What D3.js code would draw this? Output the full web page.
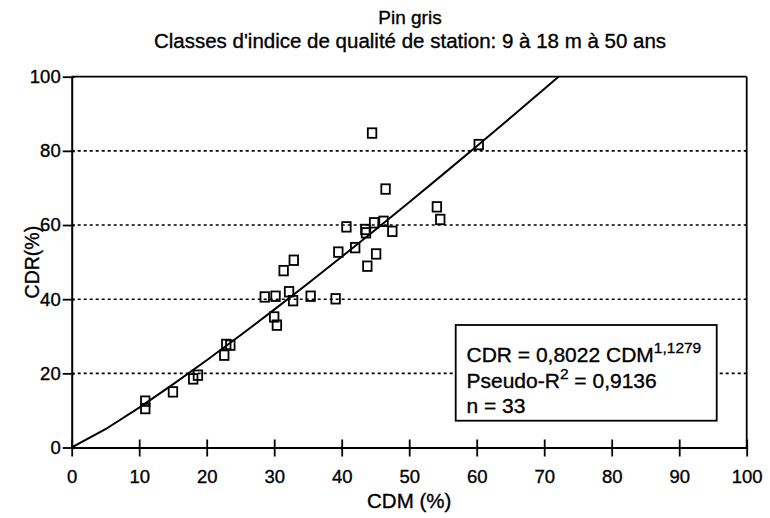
<!DOCTYPE html>
<html>
<head>
<meta charset="utf-8">
<script src="https://cdn.jsdelivr.net/npm/d3@7"></script>
<style>
  html, body { margin: 0; padding: 0; background: #fff; }
  svg text { font-family: "Liberation Sans", Arial, Helvetica, sans-serif; fill: #000; stroke: #000; stroke-width: 0.35px; }
</style>
</head>
<body>
<svg id="chart" width="770" height="518"></svg>
<script>
// ---- Data ----
const cdm = [10.9, 10.9, 15.0, 18.0, 18.7, 22.6, 22.9, 23.5, 28.6, 30.2, 30.0, 30.4,
             32.2, 32.8, 31.4, 32.9, 35.4, 39.1, 39.5, 42.0, 43.8, 44.5, 46.5, 40.7,
             43.5, 43.6, 44.8, 46.2, 47.5, 45.1, 54.1, 54.6, 60.3];
const cdr = [12.5, 10.5, 15.0, 18.5, 19.5, 24.9, 27.8, 27.6, 40.6, 40.8, 35.2, 33.0,
             42.0, 39.6, 47.7, 50.5, 40.8, 40.1, 52.7, 53.9, 48.9, 84.8, 69.7, 59.5,
             58.8, 57.9, 60.6, 61.0, 58.3, 52.2, 64.9, 61.5, 81.7];
// fitted curve CDR = 0,8022 CDM^1,1279
const curveX = [0, 5, 10, 15, 20, 25, 30, 35, 40, 45, 50, 55, 60, 65, 70, 75];
const curveY = [0, 4.93, 10.77, 17.02, 23.54, 30.27, 37.19, 44.24, 51.44, 58.74, 66.15, 73.66, 81.26, 88.93, 96.67, 104.5];
const xTicks = [0, 10, 20, 30, 40, 50, 60, 70, 80, 90, 100];
const yTicks = [0, 20, 40, 60, 80, 100];
const gridY = [20, 40, 60, 80];
const title1 = "Pin gris";
const title2 = "Classes d'indice de qualité de station: 9 à 18 m à 50 ans";
const xLabel = "CDM (%)";
const yLabel = "CDR(%)";

// ---- Layout ----
const svg = d3.select("#chart");
const L = 71.7, R = 746.7, T = 76.7, B = 447.5;
const x = d3.scaleLinear().domain([0, 100]).range([L, R]);
const y = d3.scaleLinear().domain([0, 100]).range([B, T]);

// titles
svg.append("text").attr("x", 410).attr("y", 23.5).attr("text-anchor", "middle")
  .attr("font-size", 19).text(title1);
svg.append("text").attr("x", 410).attr("y", 47.5).attr("text-anchor", "middle")
  .attr("font-size", 20.5).text(title2);

// gridlines
svg.append("g").selectAll("line").data(gridY).join("line")
  .attr("x1", L).attr("x2", R).attr("y1", d => y(d)).attr("y2", d => y(d))
  .attr("stroke", "#000").attr("stroke-width", 1.6).attr("stroke-dasharray", "3,3");

// frame top/right
svg.append("line").attr("x1", L).attr("x2", R).attr("y1", T).attr("y2", T)
  .attr("stroke", "#000").attr("stroke-width", 1.8);
svg.append("line").attr("x1", R).attr("x2", R).attr("y1", T).attr("y2", B)
  .attr("stroke", "#000").attr("stroke-width", 1.8);

// x axis
const gx = svg.append("g").attr("transform", `translate(0,${B})`)
  .call(d3.axisBottom(x).tickValues(xTicks).tickSize(9).tickPadding(13).tickSizeOuter(0));
gx.select(".domain").attr("stroke-width", 2);
gx.selectAll(".tick line").attr("y1", -8).attr("stroke-width", 1.8);
gx.selectAll(".tick text").attr("font-size", 18.5).attr("font-family", "Liberation Sans, Arial, sans-serif");

// y axis
const gy = svg.append("g").attr("transform", `translate(${L},0)`)
  .call(d3.axisLeft(y).tickValues(yTicks).tickSize(9).tickPadding(2).tickSizeOuter(0));
gy.select(".domain").attr("stroke-width", 2);
gy.selectAll(".tick line").attr("x1", 3).attr("stroke-width", 1.8);
gy.selectAll(".tick text").attr("font-size", 18.5).attr("font-family", "Liberation Sans, Arial, sans-serif");

// axis titles
svg.append("text").attr("x", x(50)).attr("y", 508).attr("text-anchor", "middle")
  .attr("font-size", 20.5).text(xLabel);
svg.append("text").attr("transform", `translate(39,${(T + B) / 2}) rotate(-90)`)
  .attr("text-anchor", "middle").attr("font-size", 19.5).text(yLabel);

// clip
svg.append("clipPath").attr("id", "clip").append("rect")
  .attr("x", L).attr("y", T).attr("width", R - L).attr("height", B - T);

// curve
const line = d3.line().x(d => x(d[0])).y(d => y(d[1]));
svg.append("path").datum(curveX.map((v, i) => [v, curveY[i]]))
  .attr("clip-path", "url(#clip)")
  .attr("d", line).attr("fill", "none").attr("stroke", "#000").attr("stroke-width", 2);

// points
const pw = 8.5, ph = 9.5;
svg.append("g").selectAll("rect").data(cdm.map((v, i) => [v, cdr[i]])).join("rect")
  .attr("x", d => x(d[0]) - pw / 2).attr("y", d => y(d[1]) - ph / 2)
  .attr("width", pw).attr("height", ph)
  .attr("fill", "none").attr("stroke", "#000").attr("stroke-width", 1.8);

// legend box
const lg = svg.append("g");
lg.append("rect").attr("x", 455.7).attr("y", 325).attr("width", 261).attr("height", 95.7)
  .attr("fill", "#fff").attr("stroke", "#000").attr("stroke-width", 1.8);
const t1 = lg.append("text").attr("x", 466.5).attr("y", 362).attr("font-size", 21);
t1.append("tspan").text("CDR = 0,8022 CDM");
t1.append("tspan").attr("dy", -9).attr("font-size", 15.5).text("1,1279");
const t2 = lg.append("text").attr("x", 466.5).attr("y", 387.5).attr("font-size", 21);
t2.append("tspan").text("Pseudo-R");
t2.append("tspan").attr("dy", -9).attr("font-size", 15.5).text("2");
t2.append("tspan").attr("dy", 9).text(" = 0,9136");
lg.append("text").attr("x", 466.5).attr("y", 413).attr("font-size", 21).text("n = 33");
</script>
</body>
</html>
